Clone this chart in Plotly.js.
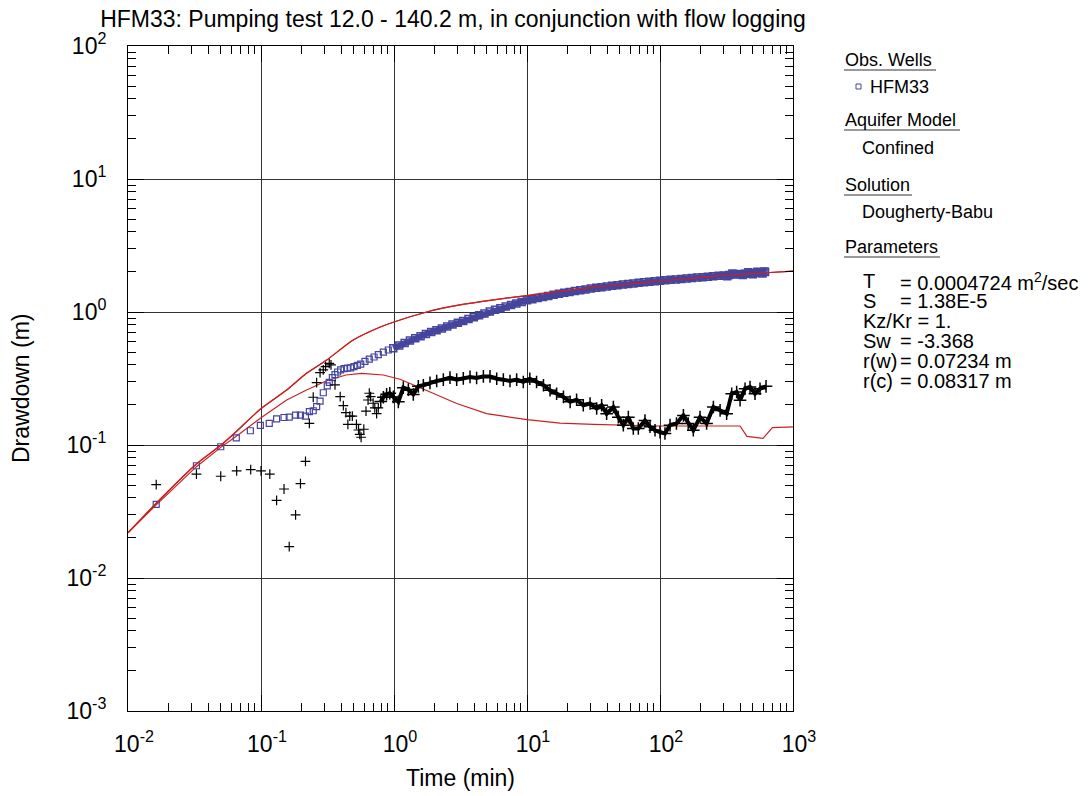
<!DOCTYPE html>
<html>
<head>
<meta charset="utf-8">
<script src="https://cdn.plot.ly/plotly-3.0.1.min.js"></script>
<style>html,body{margin:0;padding:0;background:#fff;}#chart{width:1088px;height:796px;}</style>
</head>
<body>
<div id="chart"></div>
<script>
// ---- Observed drawdown, HFM33 (blue squares) ----
var obsTime = [0.0163, 0.0327, 0.0498, 0.0652, 0.0832, 0.0989, 0.1154, 0.131, 0.149, 0.163, 0.182, 0.198, 0.216, 0.231, 0.247, 0.262, 0.278, 0.294, 0.315, 0.326, 0.344, 0.360, 0.377, 0.397, 0.421, 0.446, 0.472, 0.500, 0.530, 0.562, 0.605, 0.652, 0.708, 0.762, 0.832, 0.906, 0.988,
  1.096, 1.202, 1.318, 1.445, 1.585, 1.738, 1.905, 2.089, 2.291, 2.512, 2.754, 3.020, 3.311, 3.631, 3.981, 4.365, 4.786, 5.248, 5.754, 6.310, 6.918, 7.586, 8.318, 9.120, 10.0,
  10.96, 12.02, 13.18, 14.45, 15.85, 17.38, 19.05, 20.89, 22.91, 25.12, 27.54, 30.20, 33.11, 36.31, 39.81, 43.65, 47.86, 52.48, 57.54, 63.10, 69.18, 75.86, 83.18, 91.20, 100,
  109.6, 120.2, 131.8, 144.5, 158.5, 173.8, 190.5, 208.9, 229.1, 251.2, 275.4, 302.0, 320, 331.1, 350, 363.1, 398.1, 420, 436.5, 460, 478.6, 500, 524.8, 540, 575.4, 590, 610, 616.6];
var obsDrawdown = [0.0358, 0.0698, 0.097, 0.113, 0.128, 0.1406, 0.1456, 0.157, 0.161, 0.162, 0.168, 0.168, 0.165, 0.178, 0.181, 0.194, 0.214, 0.247, 0.278, 0.296, 0.321, 0.338, 0.354, 0.367, 0.375, 0.379, 0.380, 0.388, 0.397, 0.406, 0.426, 0.443, 0.459, 0.478, 0.500, 0.518, 0.533,
  0.560, 0.585, 0.611, 0.634, 0.658, 0.684, 0.706, 0.729, 0.753, 0.778, 0.804, 0.830, 0.857, 0.885, 0.914, 0.944, 0.975, 1.009, 1.040, 1.069, 1.099, 1.127, 1.159, 1.191, 1.225,
  1.247, 1.274, 1.297, 1.321, 1.349, 1.374, 1.396, 1.416, 1.439, 1.459, 1.479, 1.503, 1.521, 1.538, 1.556, 1.574, 1.592, 1.607, 1.626, 1.641, 1.656, 1.671, 1.687, 1.702, 1.718,
  1.730, 1.746, 1.758, 1.770, 1.786, 1.799, 1.816, 1.828, 1.841, 1.858, 1.871, 1.884, 1.860, 1.901, 1.950, 1.914, 1.928, 1.900, 1.941, 1.990, 1.954, 1.920, 1.968, 2.010, 1.982, 1.950, 2.020, 1.995];

// ---- Derivative of observed drawdown (black crosses) ----
var derivTime = [0.0163, 0.0327, 0.0498, 0.0656, 0.0837, 0.1, 0.1165, 0.131, 0.149, 0.163, 0.182, 0.198, 0.216, 0.231, 0.247, 0.262, 0.278, 0.294, 0.306, 0.326, 0.336, 0.360, 0.394, 0.416, 0.435, 0.45, 0.465, 0.486, 0.522, 0.541, 0.553, 0.566, 0.593, 0.616, 0.638, 0.652, 0.667, 0.697, 0.717, 0.74, 0.762, 0.795, 0.832, 0.88, 0.93,
  0.989, 1.078, 1.175, 1.282, 1.397, 1.524, 1.662, 1.865, 2.094, 2.349, 2.636, 2.960, 3.32, 3.73, 4.18, 4.70, 5.27, 5.92, 6.64, 7.45, 8.36, 9.38, 10.5, 11.8, 13.3, 14.9, 16.7, 18.8, 21.1, 23.6, 26.5, 29.8, 33.4, 36.4, 39.7, 44.6, 48.6, 53.0, 57.8, 63.0, 68.7, 77.1, 84.1, 91.7, 100, 109, 119, 133, 150, 163, 178, 200, 224, 252, 283, 317, 346, 377, 400, 436, 475, 518, 565, 627];
var derivValue = [0.0503, 0.0603, 0.0582, 0.0638, 0.0652, 0.0638, 0.0603, 0.0384, 0.0467, 0.0172, 0.0298, 0.0512, 0.0754, 0.1456, 0.2285, 0.294, 0.350, 0.367, 0.388, 0.411, 0.400, 0.283, 0.231, 0.198, 0.175, 0.143, 0.165, 0.165, 0.143, 0.1297, 0.120, 0.1144, 0.1314, 0.180, 0.218, 0.245, 0.231, 0.206, 0.190, 0.172, 0.190, 0.212, 0.2285, 0.241, 0.245,
  0.230, 0.211, 0.270, 0.261, 0.240, 0.276, 0.281, 0.293, 0.303, 0.310, 0.321, 0.310, 0.317, 0.325, 0.319, 0.328, 0.328, 0.315, 0.310, 0.303, 0.310, 0.298, 0.315, 0.298, 0.281, 0.258, 0.243, 0.230, 0.211, 0.219, 0.199, 0.205, 0.188, 0.199, 0.172, 0.193, 0.162, 0.141, 0.162, 0.133, 0.133, 0.153, 0.137, 0.129, 0.125, 0.122, 0.141, 0.145, 0.167, 0.145, 0.129, 0.162, 0.145, 0.193, 0.182, 0.172, 0.243, 0.250, 0.217, 0.265, 0.273, 0.243, 0.265, 0.276];

// ---- Dougherty-Babu type curve: drawdown ----
var fitTime = [0.01, 0.0163, 0.0327, 0.0498, 0.0656, 0.1, 0.156, 0.22, 0.312, 0.494, 0.78, 1, 1.76, 3.13, 5.6, 10, 17.7, 31.6, 56, 100, 178, 317, 565, 1000];
var fitDrawdown = [0.0219, 0.0365, 0.072, 0.0995, 0.127, 0.188, 0.259, 0.346, 0.436, 0.615, 0.767, 0.841, 1.0, 1.13, 1.235, 1.33, 1.43, 1.53, 1.62, 1.71, 1.80, 1.89, 1.96, 2.03];

// ---- Dougherty-Babu type curve: derivative ----
var fitDerivTime = [0.01, 0.0163, 0.0327, 0.0498, 0.0656, 0.1, 0.156, 0.22, 0.312, 0.435, 0.57, 0.83, 1.11, 1.4, 1.87, 2.96, 4.97, 10, 17.7, 31.6, 56, 100, 178, 400, 450, 595, 700, 1000];
var fitDerivValue = [0.0219, 0.0355, 0.0687, 0.096, 0.117, 0.160, 0.218, 0.259, 0.304, 0.336, 0.346, 0.336, 0.312, 0.281, 0.250, 0.205, 0.172, 0.155, 0.146, 0.143, 0.141, 0.139, 0.139, 0.139, 0.116, 0.112, 0.135, 0.137];

// ---- Axis ticks ----
var majorVals = [0.01, 0.1, 1, 10, 100, 1000];
var xTickText = ['10<sup>-2</sup>', '10<sup>-1</sup>', '10<sup>0</sup>', '10<sup>1</sup>', '10<sup>2</sup>', '10<sup>3</sup>'];
var yMajorVals = [0.001, 0.01, 0.1, 1, 10, 100];
var yTickText = ['10<sup>-3</sup>', '10<sup>-2</sup>', '10<sup>-1</sup>', '10<sup>0</sup>', '10<sup>1</sup>', '10<sup>2</sup>'];
var minorMult = [2, 3, 4, 5, 6, 7, 8, 9];

// ---- Side panel text ----
var panelHeaders = ['Obs. Wells', 'Aquifer Model', 'Solution', 'Parameters'];
var panelItems = ['HFM33', 'Confined', 'Dougherty-Babu'];
var paramNames = ['T', 'S', 'Kz/Kr = 1.', 'Sw', 'r(w)', 'r(c)'];
var paramValues = ['= 0.0004724 m<sup>2</sup>/sec', '= 1.38E-5', '', '= -3.368', '= 0.07234 m', '= 0.08317 m'];

function minorTicks(majors) {
  var out = [];
  for (var i = 0; i < majors.length - 1; i++)
    for (var j = 0; j < minorMult.length; j++) out.push(majors[i] * minorMult[j]);
  return out;
}

var FONT = 'Liberation Sans, Arial, sans-serif';
var W = 1088, H = 796, L = 128, R = 295, T = 46, B = 85;
var pw = W - L - R, ph = H - T - B;
function px(x) { return (x - L) / pw; }
function py(y) { return (H - B - y) / ph; }

var BLUE = '#45459e';
var obsSplit = 36, derivSplit = 41;
var traces = [
  {x: fitTime, y: fitDrawdown, mode: 'lines', line: {color: '#cc2020', width: 1.2, shape: 'spline', smoothing: 0.6}, hoverinfo: 'skip'},
  {x: fitDerivTime, y: fitDerivValue, mode: 'lines', line: {color: '#cc2020', width: 1.2}, hoverinfo: 'skip'},
  // sparse early observations
  {x: obsTime.slice(0, obsSplit), y: obsDrawdown.slice(0, obsSplit), mode: 'markers', marker: {symbol: 'square-open', size: 6, color: BLUE, line: {width: 1.2, color: BLUE}}},
  // dense observations (many overlapping points form a band)
  {x: obsTime.slice(obsSplit), y: obsDrawdown.slice(obsSplit), mode: 'lines+markers', line: {color: BLUE, width: 6}, marker: {symbol: 'square-open', size: 7, color: BLUE, line: {width: 1.5, color: BLUE}}},
  {x: derivTime.slice(0, derivSplit), y: derivValue.slice(0, derivSplit), mode: 'markers', marker: {symbol: 'cross-thin', size: 7, color: '#000', line: {width: 1.2, color: '#000'}}},
  {x: derivTime.slice(derivSplit), y: derivValue.slice(derivSplit), mode: 'lines+markers', line: {color: '#000', width: 4}, marker: {symbol: 'cross-thin', size: 9, color: '#000', line: {width: 1.5, color: '#000'}}},
  // fitted drawdown curve drawn again on top of the dense band
  {x: fitTime, y: fitDrawdown, mode: 'lines', line: {color: '#cc2020', width: 1.2, shape: 'spline', smoothing: 0.6}, hoverinfo: 'skip'}
];

var axisCommon = {
  type: 'log', showline: true, linecolor: '#000', linewidth: 1, mirror: 'ticks',
  ticks: 'inside', ticklen: 16, tickcolor: '#000', tickwidth: 1,
  showgrid: true, gridcolor: '#333', gridwidth: 1, zeroline: false,
  tickmode: 'array', tickfont: {family: FONT, size: 23, color: '#000'}
};

var xaxis = Object.assign({}, axisCommon, {
  range: [-2, 3], tickvals: majorVals, ticktext: xTickText, ticklabelstandoff: 12, ticklabelshift: 6,
  minor: {tickmode: 'array', tickvals: minorTicks(majorVals), ticks: 'inside', ticklen: 8, tickcolor: '#000', showgrid: false},
  title: {text: 'Time (min)', font: {family: FONT, size: 23, color: '#000'}, standoff: 14}
});
var yaxis = Object.assign({}, axisCommon, {
  range: [-3, 2], tickvals: yMajorVals, ticktext: yTickText, ticklabelstandoff: 16,
  minor: {tickmode: 'array', tickvals: minorTicks(yMajorVals), ticks: 'inside', ticklen: 8, tickcolor: '#000', showgrid: false}
});

var annotations = [];
var shapes = [];
var PFONT = {family: FONT, size: 18, color: '#000'};
var VFONT = {family: FONT, size: 20, color: '#000'};
function addText(t, x, y, f) {
  annotations.push({text: t, xref: 'paper', yref: 'paper', x: px(x), y: py(y), xanchor: 'left', yanchor: 'middle', showarrow: false, font: f || PFONT});
}
var headerY = [60, 120, 185, 247];
var headerEnd = [936, 960, 912, 940];
panelHeaders.forEach(function (h, i) {
  addText(h, 843, headerY[i]);
  shapes.push({type: 'line', xref: 'paper', yref: 'paper', x0: px(844), x1: px(headerEnd[i]), y0: py(headerY[i] + 10), y1: py(headerY[i] + 10), line: {color: '#777', width: 1.5}});
});
addText(panelItems[0], 868, 87);
addText(panelItems[1], 860, 148);
addText(panelItems[2], 860, 212);
shapes.push({type: 'rect', xref: 'paper', yref: 'paper', x0: px(856), x1: px(861), y0: py(84), y1: py(89), line: {color: BLUE, width: 1}});
var paramY = [281, 301, 321, 341, 361, 381];
paramNames.forEach(function (n, i) {
  addText(n, 861, paramY[i], VFONT);
  if (paramValues[i]) addText(paramValues[i], 898, paramY[i], VFONT);
});
annotations.push({text: 'Drawdown (m)', xref: 'paper', yref: 'paper', x: px(21), y: py(388), xanchor: 'center', yanchor: 'middle', textangle: -90, showarrow: false, font: {family: FONT, size: 23, color: '#000'}});

var layout = {
  width: W, height: H, margin: {l: L, r: R, t: T, b: B},
  paper_bgcolor: '#fff', plot_bgcolor: '#fff', showlegend: false,
  font: {family: FONT, color: '#000'},
  title: {text: 'HFM33: Pumping test 12.0 - 140.2 m, in conjunction with flow logging', font: {family: FONT, size: 23, color: '#000'}, xref: 'container', yref: 'container', x: 453 / W, xanchor: 'center', y: 1 - 19 / H, yanchor: 'middle'},
  xaxis: xaxis, yaxis: yaxis, annotations: annotations, shapes: shapes
};

Plotly.newPlot('chart', traces, layout, {staticPlot: true, displayModeBar: false});
</script>
</body>
</html>
